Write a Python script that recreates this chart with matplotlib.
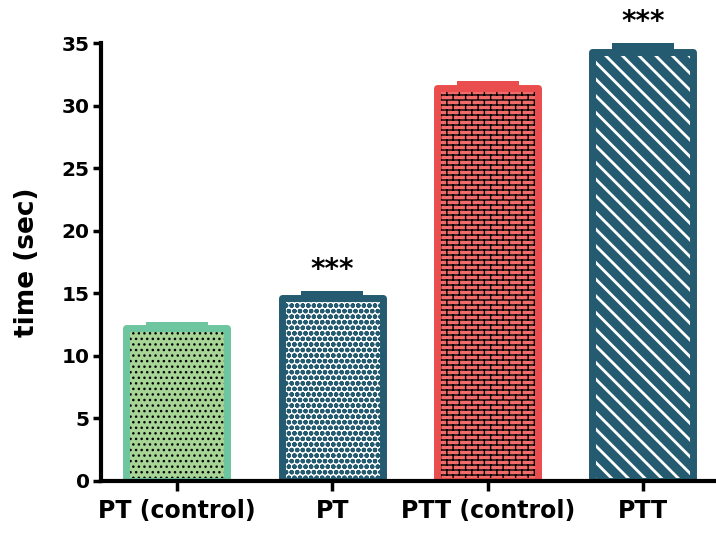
import warnings
import numpy as np
import matplotlib
matplotlib.use("Agg")
import matplotlib.pyplot as plt
from matplotlib import hatch as mhatch
from matplotlib.path import Path

warnings.filterwarnings("ignore")

# --- dados ---
grupos = ["PT (control)", "PT", "PTT (control)", "PTT"]
medias = [12.2, 14.6, 31.4, 34.3]
erros = [0.5, 0.6, 0.6, 0.7]
signif = ["", "***", "", "***"]

# --- estilos ---
cor_fundo = ["#a6d596", "white", "#f26b6b", "#255b70"]
cor_hatch = ["black", "#255b70", "black", "white"]
cor_borda = ["#6dc6a0", "#255b70", "#ea4d4d", "#255b70"]
hatches = ["...", "ooo", "b", "\\\\"]
hatch_lw = [1.0, 1.6, 1.0, 2.0]


# hachura de tijolos (matplotlib nao tem)
class BrickHatch(mhatch.HatchPatternBase):
    def __init__(self, hatch, density):
        self.rows = 20 if "b" in hatch else 0
        self.cols = 8
        if self.rows:
            self.num_vertices = 2 * (self.rows + 1) + 2 * self.rows * self.cols
        else:
            self.num_vertices = 0

    def set_vertices_and_codes(self, vertices, codes):
        k = 0
        for i in range(self.rows + 1):
            y = i / self.rows
            vertices[k] = (0, y)
            vertices[k + 1] = (1, y)
            codes[k] = Path.MOVETO
            codes[k + 1] = Path.LINETO
            k += 2
        for i in range(self.rows):
            for j in range(self.cols):
                x = (j + 0.25 + 0.5 * (i % 2)) / self.cols
                vertices[k] = (x, i / self.rows)
                vertices[k + 1] = (x, (i + 1) / self.rows)
                codes[k] = Path.MOVETO
                codes[k + 1] = Path.LINETO
                k += 2


mhatch._hatch_types.append(BrickHatch)

plt.rcParams["font.family"] = "DejaVu Sans"
plt.rcParams["font.weight"] = "bold"

fig = plt.figure(figsize=(7.16, 5.38), dpi=100)
ax = fig.add_axes([0.141, 0.106, 0.859, 0.814])

x = np.arange(len(grupos))
largura = 0.65

for i in range(len(grupos)):
    plt.rcParams["hatch.linewidth"] = hatch_lw[i]
    b = ax.bar(x[i], medias[i], width=largura, color=cor_fundo[i],
               edgecolor=cor_hatch[i], linewidth=0, hatch=hatches[i], zorder=2)
    for p in b:
        if hasattr(p, "set_hatch_linewidth"):
            p.set_hatch_linewidth(hatch_lw[i])
    # contorno grosso
    ax.bar(x[i], medias[i], width=largura, color="none",
           edgecolor=cor_borda[i], linewidth=5, zorder=3, joinstyle="round")
    # barra de erro (SEM) como bloco
    ax.bar(x[i], erros[i], bottom=medias[i], width=0.4, color=cor_borda[i],
           linewidth=0, zorder=3, clip_on=False)
    if signif[i]:
        ax.text(x[i], medias[i] + erros[i] + 0.55, signif[i], ha="center",
                va="bottom", fontsize=20, fontweight="bold", clip_on=False)

ax.set_xlim(-0.489, 3.47)
ax.set_ylim(0, 35)
ax.set_yticks(range(0, 36, 5))
ax.set_xticks(x)
ax.set_xticklabels(grupos, fontsize=17, fontweight="bold")
ax.tick_params(axis="y", labelsize=14.5, width=2.5, length=6, pad=2)
ax.tick_params(axis="x", width=2.5, length=7, pad=6)
for lab in ax.get_yticklabels():
    lab.set_fontweight("bold")

ax.set_ylabel("time (sec)", fontsize=19, fontweight="bold", labelpad=16)

for s in ["top", "right"]:
    ax.spines[s].set_visible(False)
for s in ["left", "bottom"]:
    ax.spines[s].set_linewidth(3)
ax.spines["bottom"].set_zorder(4)

fig.savefig("out.png", dpi=100)
